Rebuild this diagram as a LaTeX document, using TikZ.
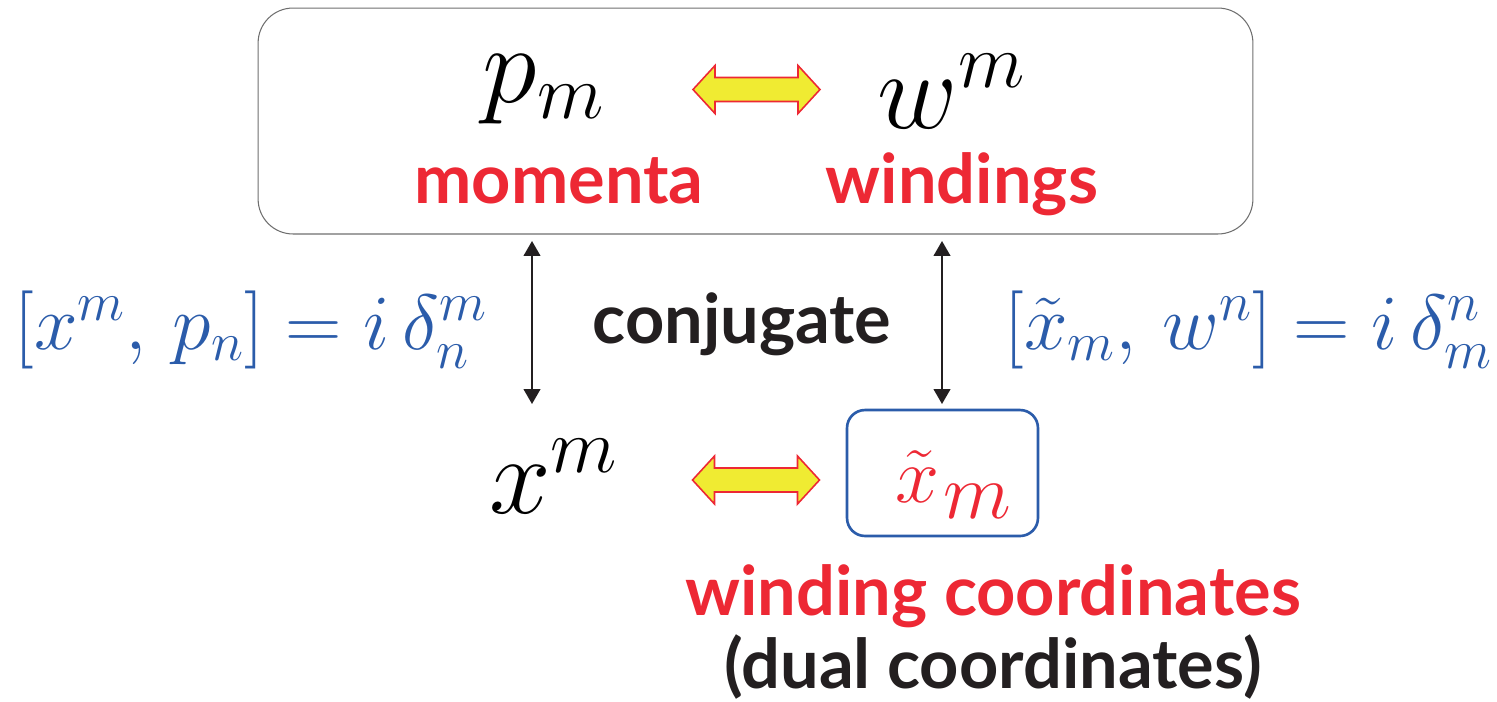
\RequirePackage{fix-cm}
\documentclass[tikz,border=0pt]{standalone}
\usepackage{fontspec}
\newfontfamily\bsf{Lato}
\usetikzlibrary{arrows.meta}
\definecolor{tred}{RGB}{237,40,52}
\definecolor{tblue}{RGB}{43,92,170}
\definecolor{tyellow}{RGB}{240,235,50}
\definecolor{tblack}{RGB}{35,31,32}
\definecolor{tgray}{RGB}{110,110,110}
\tikzset{
  bigmath/.style={inner sep=0pt, anchor=base, font=\fontsize{63}{70}\selectfont},
  bluemath/.style={inner sep=0pt, anchor=base, text=tblue, font=\fontsize{44.5}{50}\selectfont},
  boldlabel/.style={inner sep=0pt, anchor=base, font=\fontsize{39}{44}\selectfont\bsf\bfseries},
  vert/.style={draw=tblack, line width=1.1pt, {Triangle[length=8.5pt,width=9.5pt]}-{Triangle[length=8.5pt,width=9.5pt]}},
  yarrow/.pic={\draw[draw=tred, fill=tyellow, line width=0.9pt, line join=miter]
     (-63.5,0) -- (-41.5,-24) -- (-41.5,-12) -- (41.5,-12) -- (41.5,-24) -- (63.5,0)
     -- (41.5,24) -- (41.5,12) -- (-41.5,12) -- (-41.5,24) -- cycle;}
}
\begin{document}
\begin{tikzpicture}[x=0.02cm, y=-0.02cm]
\useasboundingbox (0,0) rectangle (1497,701);
% top box
\node (topbox) [draw=tgray, line width=0.6pt, rounded corners=0.7cm, minimum width=19.9cm, minimum height=4.52cm, inner sep=0pt] at (755.5,121) {};
\node (pm) [bigmath] at (543.5,102) {$p_m$};
\node (wm) [bigmath] at (951.5,128) {$w^m$};
\pic at (756.5,89.5) {yarrow};
\node (mom) [boldlabel, text=tred] at (559,203) {momenta};
\node (wind) [boldlabel, text=tred] at (962,203) {windings};
% middle
\node (conj) [boldlabel, text=tblack] at (742,343) {conjugate};
\node (lform) [bluemath] at (251,349) {$[x^m,\, p_n] = i\,\delta^m_n$};
\node (rform) [bluemath] at (1248.5,349) {$[\tilde{x}_m,\, w^n] = i\,\delta^n_m$};
\coordinate (la1) at (532,241);
\coordinate (la2) at (532,404);
\coordinate (ra1) at (942,241);
\coordinate (ra2) at (942,404);
\draw[vert] (la1) -- (la2);
\draw[vert] (ra1) -- (ra2);
% bottom
\node (xm) [bigmath] at (553.5,513) {$x^m$};
\pic at (756,480) {yarrow};
\node (xbox) [draw=tblue, line width=1.5pt, rounded corners=0.36cm, minimum width=3.82cm, minimum height=2.52cm, inner sep=0pt] at (942.5,473) {};
\node (xt) [inner sep=0pt, anchor=base, text=tred, font=\fontsize{45}{50}\selectfont] at (953.5,502) {$\tilde{x}\mkern1mu\lower0.32cm\hbox{$m$}$};
\node (wc) [boldlabel, text=tred] at (993,615) {winding coordinates};
\node (dc) [boldlabel, text=tblack] at (993,688) {(dual coordinates)};
\end{tikzpicture}
\end{document}
